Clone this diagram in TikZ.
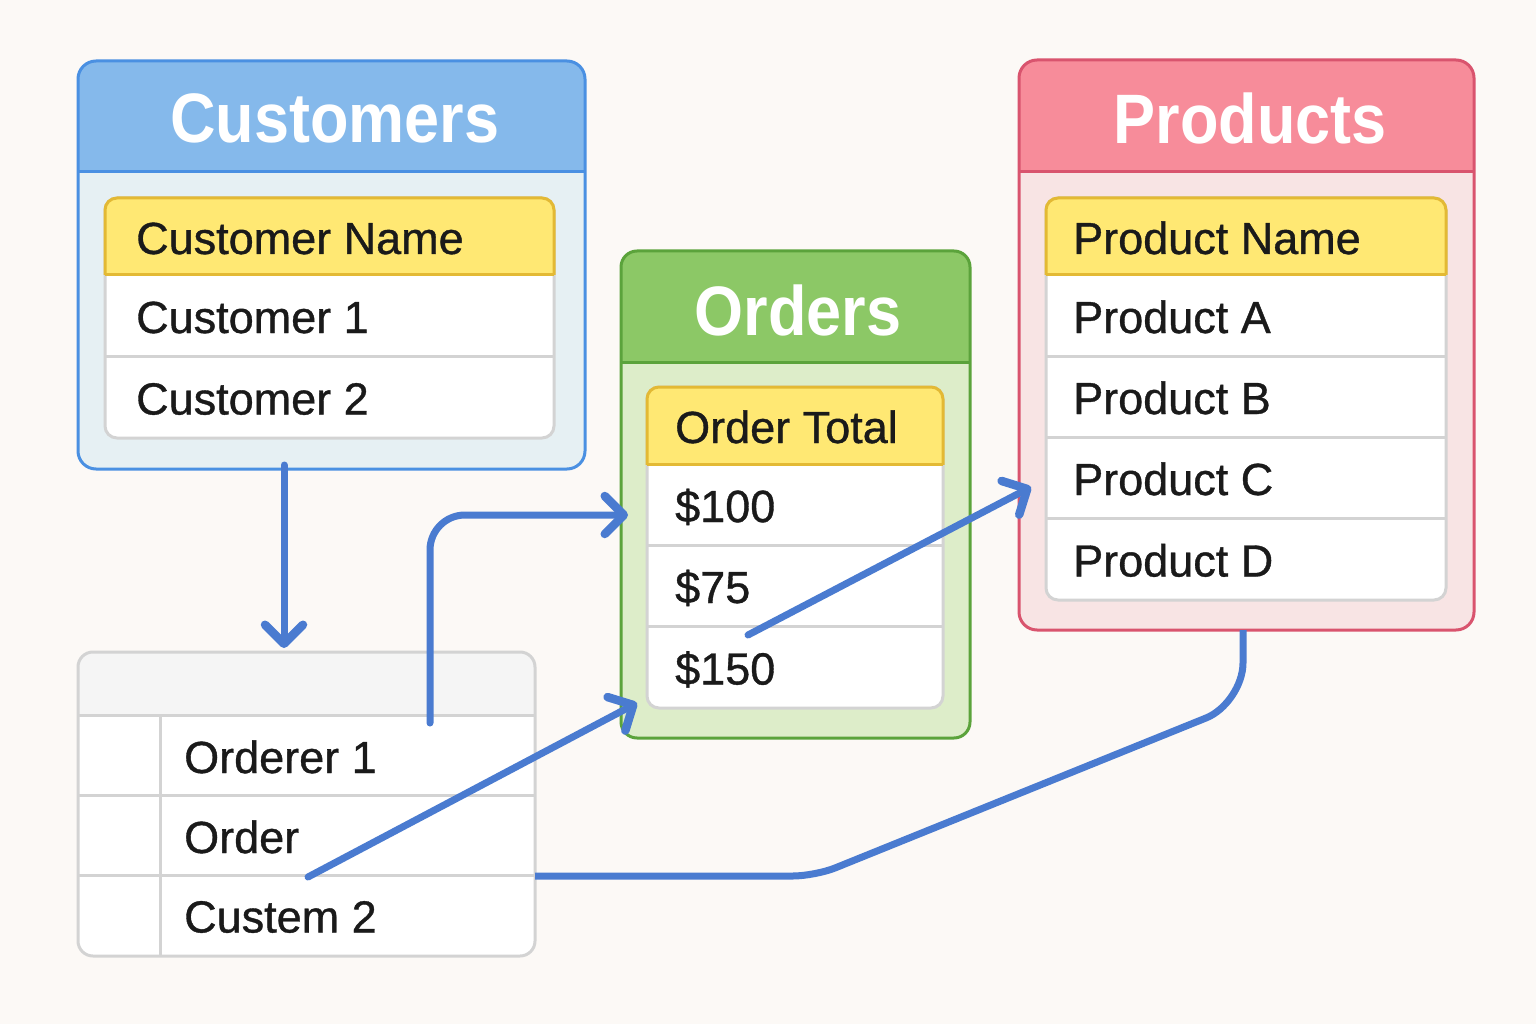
\documentclass[tikz,border=0pt]{standalone}
\usepackage{fontspec}
\setmainfont{Liberation Sans}
\newfontfamily\cellfont[FakeBold=0.8]{Liberation Sans}
\usepackage{graphicx}
\usetikzlibrary{arrows.meta}
\definecolor{bg}{HTML}{FCF9F6}
\definecolor{custborder}{HTML}{4A90E2}
\definecolor{custhead}{HTML}{85B9EB}
\definecolor{custbody}{HTML}{E6F0F3}
\definecolor{ordborder}{HTML}{5BA33B}
\definecolor{ordhead}{HTML}{8CC866}
\definecolor{ordbody}{HTML}{DDEDC9}
\definecolor{prodborder}{HTML}{D9546E}
\definecolor{prodhead}{HTML}{F78C9A}
\definecolor{prodbody}{HTML}{F8E4E4}
\definecolor{yel}{HTML}{FFE873}
\definecolor{yelb}{HTML}{E3B934}
\definecolor{gridgrey}{HTML}{D3D3D3}
\definecolor{headgrey}{HTML}{F5F5F5}
\definecolor{arrowblue}{HTML}{4A7BD0}
\definecolor{txt}{HTML}{1A1A1A}
\begin{document}
\begin{tikzpicture}[x=1pt,y=-1pt,
  titletext/.style={text=white, font=\fontsize{70}{80}\selectfont\bfseries, inner sep=0pt},
  cell/.style={anchor=base west, font=\cellfont\fontsize{45}{54}\selectfont, text=txt, inner sep=0pt},
  gridline/.style={draw=gridgrey, line width=3pt},
  conn/.style={draw=arrowblue, line width=7pt, line cap=round, line join=round},
  arrowed/.style={-{Straight Barb[length=19pt,width=38pt,round,line width=8.5pt]}}]
\useasboundingbox (0,0) rectangle (1536,1024);
\fill[bg] (0,0) rectangle (1536,1024);

% ---------- Customers ----------
\fill[custbody, rounded corners=18pt] (78,61) rectangle (585,469);
\begin{scope}\clip (0,0) rectangle (1536,172);
  \fill[custhead, rounded corners=18pt] (78,61) rectangle (585,469);
\end{scope}
\draw[custborder, line width=3pt] (78,172) -- (585,172);
\draw[custborder, line width=3pt, rounded corners=18pt] (78,61) rectangle (585,469);
\node[titletext] (custT) at (335,118) {\scalebox{0.9}[1]{Customers}};
\fill[white, rounded corners=12pt] (105,198) rectangle (554,438);
\draw[gridline, rounded corners=12pt] (105,198) rectangle (554,438);
\begin{scope}\clip (0,0) rectangle (1536,275);
  \draw[fill=yel, draw=yelb, line width=3pt, rounded corners=12pt] (105,198) rectangle (554,438);
\end{scope}
\draw[yelb, line width=3pt] (105,275) -- (554,275);
\draw[gridline] (106,356) -- (553,356);
\node[cell] (custName) at (136,254) {Customer Name};
\node[cell] (cust1) at (136,333) {Customer 1};
\node[cell] (cust2) at (136,414.5) {Customer 2};

% ---------- Orders ----------
\fill[ordbody, rounded corners=16pt] (621,251) rectangle (970,738);
\begin{scope}\clip (0,0) rectangle (1536,362);
  \fill[ordhead, rounded corners=16pt] (621,251) rectangle (970,738);
\end{scope}
\draw[ordborder, line width=3pt] (621,362) -- (970,362);
\draw[ordborder, line width=3pt, rounded corners=16pt] (621,251) rectangle (970,738);
\node[titletext] (ordT) at (798,310) {\scalebox{0.9}[1]{Orders}};
\fill[white, rounded corners=12pt] (647,387) rectangle (943,708);
\draw[gridline, rounded corners=12pt] (647,387) rectangle (943,708);
\begin{scope}\clip (0,0) rectangle (1536,464);
  \draw[fill=yel, draw=yelb, line width=3pt, rounded corners=12pt] (647,387) rectangle (943,708);
\end{scope}
\draw[yelb, line width=3pt] (647,464) -- (943,464);
\draw[gridline] (648,545) -- (942,545);
\draw[gridline] (648,626) -- (942,626);
\node[cell] (ordTotal) at (675,443) {Order Total};
\node[cell] (o100) at (675,522) {\$100};
\node[cell] (o75) at (675,603) {\$75};
\node[cell] (o150) at (675,684.5) {\$150};

% ---------- Products ----------
\fill[prodbody, rounded corners=18pt] (1019,60) rectangle (1474,630);
\begin{scope}\clip (0,0) rectangle (1536,172);
  \fill[prodhead, rounded corners=18pt] (1019,60) rectangle (1474,630);
\end{scope}
\draw[prodborder, line width=3pt] (1019,172) -- (1474,172);
\draw[prodborder, line width=3pt, rounded corners=18pt] (1019,60) rectangle (1474,630);
\node[titletext] (prodT) at (1250,118) {\scalebox{0.9}[1]{Products}};
\fill[white, rounded corners=12pt] (1046,198) rectangle (1446,600);
\draw[gridline, rounded corners=12pt] (1046,198) rectangle (1446,600);
\begin{scope}\clip (0,0) rectangle (1536,275);
  \draw[fill=yel, draw=yelb, line width=3pt, rounded corners=12pt] (1046,198) rectangle (1446,600);
\end{scope}
\draw[yelb, line width=3pt] (1046,275) -- (1446,275);
\draw[gridline] (1047,356) -- (1445,356);
\draw[gridline] (1047,437) -- (1445,437);
\draw[gridline] (1047,518) -- (1445,518);
\node[cell] (prodName) at (1073,254) {Product Name};
\node[cell] (prodA) at (1073,333) {Product A};
\node[cell] (prodB) at (1073,414) {Product B};
\node[cell] (prodC) at (1073,495) {Product C};
\node[cell] (prodD) at (1073,576.5) {Product D};

% ---------- Bottom table ----------
\fill[white, rounded corners=15pt] (78,652) rectangle (535,956);
\begin{scope}\clip (0,0) rectangle (1536,715);
  \fill[headgrey, rounded corners=15pt] (78,652) rectangle (535,956);
\end{scope}
\draw[gridline] (78,715) -- (535,715);
\draw[gridline] (78,795) -- (535,795);
\draw[gridline] (78,875) -- (535,875);
\draw[gridline] (160,715) -- (160,956);
\draw[gridline, rounded corners=15pt] (78,652) rectangle (535,956);
\node[cell] (row1) at (184,773) {Orderer 1};
\node[cell] (row2) at (184,853) {Order};
\node[cell] (row3) at (184,932.5) {Custem 2};

% ---------- connector end points ----------
\coordinate (custBot) at (284,465);
\coordinate (tabTop) at (284,648);
\coordinate (row1Start) at (430,723);
\coordinate (o100In) at (628,515);
\coordinate (row3Start) at (308,877);
\coordinate (ordIn) at (637,703);
\coordinate (o150Start) at (748,635);
\coordinate (prodCIn) at (1031,487);
\coordinate (prodBot) at (1243,630);
\coordinate (tabRight) at (535,876);

% ---------- connectors ----------
\draw[conn, arrowed] (custBot) -- (tabTop);
\draw[conn, arrowed, rounded corners=35pt] (row1Start) -- (430,515) -- (o100In);
\draw[conn, arrowed] (row3Start) -- (ordIn);
\draw[conn, arrowed] (o150Start) -- (prodCIn);
\draw[conn, line cap=butt] (prodBot) -- (1243,663)
  .. controls (1243,685) and (1226,710) .. (1206,718)
  -- (835,868)
  .. controls (824,872.4) and (805,876) .. (793,876)
  -- (tabRight);
\end{tikzpicture}
\end{document}
